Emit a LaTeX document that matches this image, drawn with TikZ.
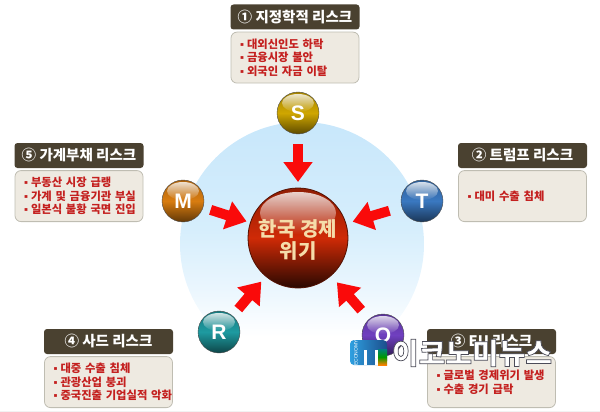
\documentclass[tikz,border=0pt]{standalone}
\usepackage{fontspec}
\usepackage{xcolor}
\setmainfont{Noto Sans CJK KR}
\newfontfamily\latinfont{Liberation Sans}
\usetikzlibrary{positioning,arrows.meta,fadings}

\definecolor{hdrcol}{HTML}{4A4130}
\definecolor{bodycol}{HTML}{EEEAE1}
\definecolor{bodyline}{HTML}{BFBDB2}
\definecolor{itemcol}{HTML}{C4201F}
\definecolor{arrowcol}{HTML}{FA0A0A}
\definecolor{ballS}{HTML}{CFA600}
\definecolor{ballT}{HTML}{3A78C0}
\definecolor{ballO}{HTML}{7040C0}
\definecolor{ballR}{HTML}{1E9AA0}
\definecolor{ballM}{HTML}{D87C10}
\definecolor{ballC}{HTML}{CF2A06}
\definecolor{logoblue}{HTML}{2E9FE0}
\definecolor{logonavy}{HTML}{1C4E8C}
\definecolor{skyA}{HTML}{C8E7FB}
\definecolor{skyB}{HTML}{D6EEFC}
\definecolor{skyC}{HTML}{EAF6FE}
\definecolor{crisistan}{HTML}{F5DDAA}

\newcommand{\riskitem}[1]{\mbox{\hspace*{7pt}{\latinfont ▪}\hspace{3pt}#1}}

\pgfdeclareverticalshading{skyfade}{100bp}{color(0bp)=(white); color(31bp)=(white);
    color(41bp)=(skyC); color(53bp)=(skyB); color(75bp)=(skyA); color(100bp)=(skyA)}

\begin{document}
\begin{tikzpicture}[
        x=1pt, y=-1pt,
        hdr/.style={fill=hdrcol, rounded corners=3pt, minimum width=129pt, minimum height=25pt,
            inner sep=0pt, text=white, font=\fontsize{14.5}{16}\selectfont\bfseries},
        riskbody/.style={fill=bodycol, draw=bodyline, thick, rounded corners=6pt, minimum width=128pt,
            minimum height=51pt, inner xsep=1pt, inner ysep=0pt, text width=124pt, align=left,
            text=itemcol, font=\fontsize{11.3}{13.5}\selectfont\bfseries},
        bigarrow/.style={draw=arrowcol, line width=10pt, -{Triangle[width=28pt,length=20pt]}},
        ball/.style={circle, minimum size=42pt, inner sep=0pt, outer sep=0pt, draw=black!70}
    ]
    \useasboundingbox (0,0) rectangle (600,412);
    \fill[black!5] (0,410.5) rectangle (600,412);

    % sky disc
    \shade[shading=skyfade] (302,244) circle (122);

    % centre
    \node[circle, minimum size=100pt, inner sep=0pt, outer sep=0pt, draw=ballC!40!black, thick,
        top color=ballC!70!black, bottom color=ballC!20!black, middle color=ballC] (crisis) at (298,238) {};
    \fill[white, path fading=south, opacity=.8] (298,213) ellipse (38 and 21);
    \node[text=crisistan, align=center, font=\fontsize{20}{22}\selectfont\bfseries] (crisistext) at (298,240) {한국 경제\\위기};

    % balls
    \foreach \name/\x/\y/\col in {S/298/113/ballS, T/422/201/ballT, O/383/335/ballO, R/219/332/ballR, M/183/201/ballM} {
        \node[ball, top color=\col!80!black, bottom color=\col!45!black, middle color=\col] (\name) at (\x,\y) {};
        \fill[white, path fading=south, opacity=.8] (\x,\y-10) ellipse (16 and 9);
        \node[text=white, font=\fontsize{21}{21}\selectfont\latinfont\bfseries] (\name text) at (\x,\y) {\name};
    }

    % arrows
    \draw[bigarrow, shorten <=10pt, shorten >=6pt] (S) -- (crisis);
    \draw[bigarrow, shorten <=13pt, shorten >=7pt] (T) -- (crisis);
    \draw[bigarrow, shorten <=12pt, shorten >=9pt] (O) -- (crisis);
    \draw[bigarrow, shorten <=9pt, shorten >=7pt] (R) -- (crisis);
    \draw[bigarrow, shorten <=8pt, shorten >=4pt] (M) -- (crisis);

    % 1
    \node[hdr] (hdrS) at (295,17) {① 지정학적 리스크};
    \node[riskbody, below=2pt of hdrS] (bodyS) {\riskitem{대외신인도 하락}\\\riskitem{금융시장 불안}\\\riskitem{외국인 자금 이탈}};

    % 2
    \node[hdr] (hdrT) at (522.5,155.5) {② 트럼프 리스크};
    \node[riskbody, below=2pt of hdrT] (bodyT) {\riskitem{대미 수출 침체}};

    % 3
    \node[hdr] (hdrO) at (491.5,341.5) {③ EU 리스크};
    \node[riskbody, below=2pt of hdrO] (bodyO) {\riskitem{글로벌 경제위기 발생}\\\riskitem{수출 경기 급락}};

    % 4
    \node[hdr] (hdrR) at (108.5,341.5) {④ 사드 리스크};
    \node[riskbody, below=2pt of hdrR] (bodyR) {\riskitem{대중 수출 침체}\\\riskitem{관광산업 붕괴}\\\riskitem{중국진출 기업실적 악화}};

    % 5
    \node[hdr] (hdrM) at (79,155.5) {⑤ 가계부채 리스크};
    \node[riskbody, below=2pt of hdrM] (bodyM) {\riskitem{부동산 시장 급랭}\\\riskitem{가계 및 금융기관 부실}\\\riskitem{일본식 불황 국면 진입}};

    % watermark
    \shade[left color=logoblue, right color=logonavy, rounded corners=4pt] (350,340) rectangle (387,365);
    \fill[white] (364,350) rectangle (366.5,365);
    \fill[white] (374.5,350) rectangle (378,365);
    \shade[top color=teal, bottom color=orange, middle color=green!60!black] (378,349) rectangle (387,365);
    \node[rotate=90, text=white, inner sep=0pt, font=\fontsize{5}{5}\selectfont\latinfont] (logotext) at (356,353) {ECONOMY};
    \node[inner sep=0pt, text=white, font=\fontsize{29}{29}\selectfont\bfseries] (wmark) at (472,353)
        {\special{pdf:code 2 Tr 0.7 w 0.3 0.3 0.35 RG}이코노미뉴스\special{pdf:code 0 Tr}};
\end{tikzpicture}
\end{document}
